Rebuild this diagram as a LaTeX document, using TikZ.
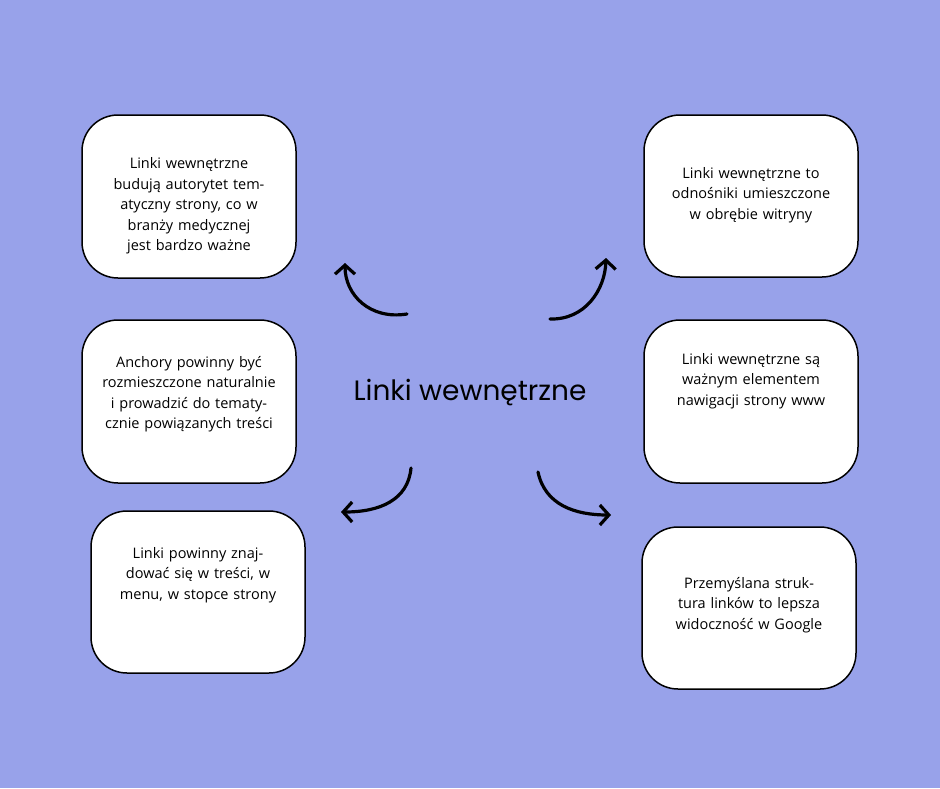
\documentclass[tikz,border=0pt]{standalone}
\usepackage{fontspec}
\setmainfont{Open Sans}
\newfontfamily\titlefont{Poppins}
\usetikzlibrary{arrows.meta}
\definecolor{bgc}{HTML}{98A2EA}
\begin{document}
\begin{tikzpicture}[x=1pt,y=-1pt,
  card/.style={draw=black,line width=1.5pt,fill=white,rounded corners=36pt},
  txt/.style={align=center,text width=175pt,font=\fontsize{14.5}{20.5}\selectfont},
  arr/.style={line width=3.2pt,line cap=round,-{Straight Barb[length=9pt,width=20pt,line width=3.2pt]}}]
\fill[bgc] (0,0) rectangle (940,788);
\useasboundingbox (0,0) rectangle (940,788);
\draw[card] (82,115) rectangle (296,278);
\draw[card] (644,115) rectangle (858,277);
\draw[card] (82,320) rectangle (296,483);
\draw[card] (644,320) rectangle (858,483);
\draw[card] (91,511) rectangle (305,673);
\draw[card] (642,527) rectangle (856,689);
\node[txt] (t1) at (189,206) {Linki wewnętrzne budują autorytet tematyczny strony, co w branży medycznej jest bardzo ważne};
\node[txt] (t2) at (751,195) {Linki wewnętrzne to odnośniki umieszczone w obrębie witryny};
\node[txt] (t3) at (189,394) {Anchory powinny być rozmieszczone naturalnie i prowadzić do tematycznie powiązanych treści};
\node[txt] (t4) at (751,381) {Linki wewnętrzne są ważnym elementem nawigacji strony www};
\node[txt] (t5) at (198,575) {Linki powinny znajdować się w treści, w menu, w stopce strony};
\node[txt] (t6) at (749,605) {Przemyślana struktura linków to lepsza widoczność w Google};
\node[font=\titlefont\fontsize{28}{32}\selectfont] (c) at (470,393) {Linki wewnętrzne};
\coordinate (a1) at (407,314); \coordinate (b1) at (345,263);
\coordinate (a2) at (550,319); \coordinate (b2) at (606,258);
\coordinate (a3) at (411,468); \coordinate (b3) at (341,512);
\coordinate (a4) at (538,472); \coordinate (b4) at (611,515);
\draw[arr] (a1) .. controls (370,320) and (345,295) .. (b1);
\draw[arr] (a2) .. controls (585,320) and (605,290) .. (b2);
\draw[arr] (a3) .. controls (408,500) and (380,512) .. (b3);
\draw[arr] (a4) .. controls (545,505) and (575,515) .. (b4);
\end{tikzpicture}
\end{document}
